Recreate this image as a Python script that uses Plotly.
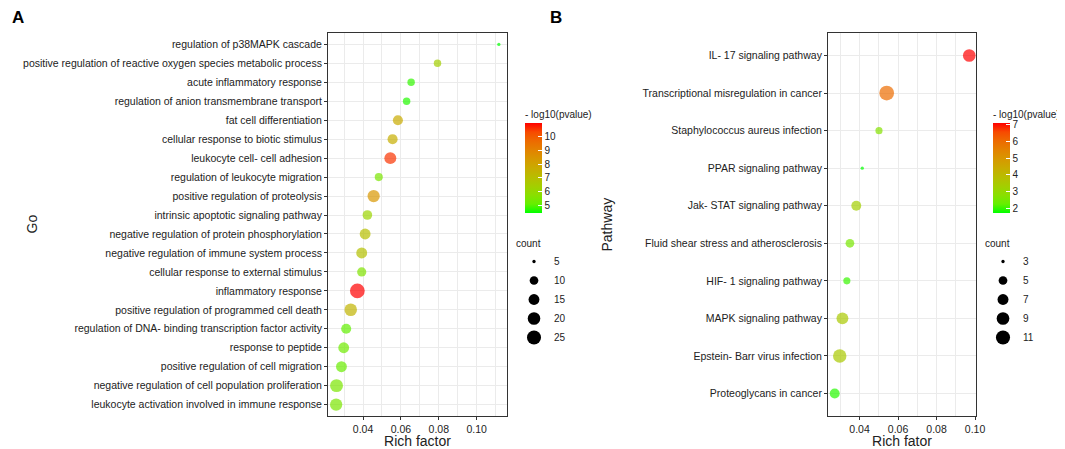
import numpy as np
import plotly.graph_objects as go

# ---- GO enrichment (panel A), listed top to bottom ----
go_terms = [
    "regulation of p38MAPK cascade",
    "positive regulation of reactive oxygen species metabolic process",
    "acute inflammatory response",
    "regulation of anion transmembrane transport",
    "fat cell differentiation",
    "cellular response to biotic stimulus",
    "leukocyte cell- cell adhesion",
    "regulation of leukocyte migration",
    "positive regulation of proteolysis",
    "intrinsic apoptotic signaling pathway",
    "negative regulation of protein phosphorylation",
    "negative regulation of immune system process",
    "cellular response to external stimulus",
    "inflammatory response",
    "positive regulation of programmed cell death",
    "regulation of DNA- binding transcription factor activity",
    "response to peptide",
    "positive regulation of cell migration",
    "negative regulation of cell population proliferation",
    "leukocyte activation involved in immune response",
]
go_rich = [0.1117, 0.0793, 0.0654, 0.0630, 0.0584, 0.0556, 0.0544, 0.0483, 0.0456, 0.0423,
           0.0411, 0.0393, 0.0393, 0.0370, 0.0335, 0.0311, 0.0298, 0.0286, 0.0260, 0.0258]
go_count = [5, 8, 8, 8, 13, 13, 18, 9, 19, 12, 15, 15, 11, 28, 20, 13, 15, 15, 21, 19]
go_logp = [4.48, 6.4, 4.8, 4.7, 7.7, 7.6, 10.5, 5.5, 8.4, 6.2,
           7.0, 6.9, 5.6, 10.95, 7.4, 5.1, 5.3, 5.2, 5.5, 5.5]
go_breaks = [5, 10, 15, 20, 25]
go_cb_ticks = [5, 6, 7, 8, 9, 10]

# ---- KEGG enrichment (panel B), listed top to bottom ----
kegg_terms = [
    "IL- 17 signaling pathway",
    "Transcriptional misregulation in cancer",
    "Staphylococcus aureus infection",
    "PPAR signaling pathway",
    "Jak- STAT signaling pathway",
    "Fluid shear stress and atherosclerosis",
    "HIF- 1 signaling pathway",
    "MAPK signaling pathway",
    "Epstein- Barr virus infection",
    "Proteoglycans in cancer",
]
kegg_rich = [0.0970, 0.0541, 0.0501, 0.0414, 0.0383, 0.0350, 0.0334, 0.0311, 0.0297, 0.0271]
kegg_count = [9, 12, 4, 3, 6, 5, 4, 8, 10, 6]
kegg_logp = [7.12, 6.0, 2.7, 1.7, 3.3, 2.5, 2.0, 3.5, 3.5, 1.9]
kegg_breaks = [3, 5, 7, 9, 11]
kegg_cb_ticks = [2, 3, 4, 5, 6, 7]

# the page body has an 8px margin, so the figure is drawn 8px in from the window corner
OFF = 8
W, H = 1065 - OFF, 449 - OFF
TXT = "#222222"
FONT = "Liberation Sans, Arial, sans-serif"


def px(x):  # window pixel -> paper x
    return (x - OFF) / W


def py(y):  # window pixel -> paper y
    return 1 - (y - OFF) / H


# green -> red gradient interpolated in CIELAB (like ggplot's scale_colour_gradient)
def _to_lab(rgb):
    c = np.array(rgb) / 255.0
    c = np.where(c <= 0.04045, c / 12.92, ((c + 0.055) / 1.055) ** 2.4)
    m = np.array([[0.4124, 0.3576, 0.1805], [0.2126, 0.7152, 0.0722], [0.0193, 0.1192, 0.9505]])
    xyz = m @ c / np.array([0.95047, 1.0, 1.08883])
    f = np.where(xyz > 0.008856, np.cbrt(xyz), 7.787 * xyz + 16 / 116)
    return np.array([116 * f[1] - 16, 500 * (f[0] - f[1]), 200 * (f[1] - f[2])])


def _from_lab(lab):
    fy = (lab[0] + 16) / 116
    f = np.array([fy + lab[1] / 500, fy, fy - lab[2] / 200])
    xyz = np.where(f ** 3 > 0.008856, f ** 3, (f - 16 / 116) / 7.787) * np.array([0.95047, 1.0, 1.08883])
    m = np.array([[3.2406, -1.5372, -0.4986], [-0.9689, 1.8758, 0.0415], [0.0557, -0.2040, 1.0570]])
    c = np.clip(m @ xyz, 0, 1)
    c = np.where(c <= 0.0031308, 12.92 * c, 1.055 * c ** (1 / 2.4) - 0.055)
    r, g, b = (np.clip(c, 0, 1) * 255).round().astype(int)
    return f"rgb({r},{g},{b})"


lo_lab, hi_lab = _to_lab((0, 255, 0)), _to_lab((255, 0, 0))
green_red = [[i / 10, _from_lab(lo_lab + (hi_lab - lo_lab) * i / 10)] for i in range(11)]


def dot_size(counts, lo, hi):
    t = np.clip((np.asarray(counts, float) - lo) / (hi - lo), 0, 1)
    return 1.0 + 2.3 * (1 + 5 * np.sqrt(t))


def padded(vals, frac=0.05):
    lo, hi = min(vals), max(vals)
    return [lo - frac * (hi - lo), hi + frac * (hi - lo)]


fig = go.Figure()

panels = [
    dict(terms=go_terms, rich=go_rich, count=go_count, logp=go_logp, breaks=go_breaks,
         ax="", cax="coloraxis", leg="legend"),
    dict(terms=kegg_terms, rich=kegg_rich, count=kegg_count, logp=kegg_logp, breaks=kegg_breaks,
         ax="2", cax="coloraxis2", leg="legend2"),
]

for p in panels:
    lo, hi = min(p["count"]), max(p["count"])
    fig.add_trace(go.Scatter(
        x=p["rich"], y=p["terms"], mode="markers",
        marker=dict(size=dot_size(p["count"], lo, hi), color=p["logp"], coloraxis=p["cax"], line=dict(width=0)),
        xaxis="x" + p["ax"], yaxis="y" + p["ax"], showlegend=False,
        hovertemplate="%{y}<br>Rich factor %{x}<extra></extra>",
    ))
    # size key
    for b in p["breaks"]:
        fig.add_trace(go.Scatter(
            x=[None], y=[None], mode="markers", name=str(b),
            marker=dict(size=float(dot_size([b], lo, hi)[0]), color="black", line=dict(width=0)),
            xaxis="x" + p["ax"], yaxis="y" + p["ax"], legend=p["leg"], showlegend=True,
        ))

axis_common = dict(
    showline=True, mirror=True, linecolor="#333333", linewidth=1,
    ticks="outside", ticklen=3, tickcolor="#333333",
    gridcolor="#EBEBEB", gridwidth=1, zeroline=False,
    tickfont=dict(size=10.5, color=TXT), automargin=False,
)
y0, y1 = py(416), py(33)
x_ticks = [0.04, 0.06, 0.08, 0.10]
x_text = ["0.04", "0.06", "0.08", "0.10"]


def colorbar(x_win, ticks):
    return dict(
        title=dict(text="- log10(pvalue)", side="top", font=dict(size=10, color=TXT)),
        x=px(x_win), xanchor="left", y=py(213), yanchor="bottom",
        len=106, lenmode="pixels", thickness=17, xpad=0, ypad=0,
        outlinewidth=0, ticks="inside", ticklen=4, tickcolor="white",
        tickvals=ticks, tickfont=dict(size=10, color=TXT),
    )


def size_legend(x_win):
    return dict(
        title=dict(text="count", font=dict(size=10, color=TXT)),
        x=px(x_win), xanchor="left", y=py(234), yanchor="top",
        itemsizing="trace", font=dict(size=10, color=TXT), bgcolor="rgba(0,0,0,0)",
        tracegroupgap=0,
    )


fig.update_layout(
    width=W, height=H,
    margin=dict(l=0, r=0, t=0, b=0, autoexpand=False),
    paper_bgcolor="white", plot_bgcolor="white",
    font=dict(family=FONT, color=TXT),
    xaxis=dict(axis_common, domain=[px(328), px(507)], range=padded(go_rich),
               tickvals=x_ticks, ticktext=x_text,
               minor=dict(dtick=0.01, tick0=0, showgrid=True, gridcolor="#EBEBEB", gridwidth=0.8),
               title=dict(text="Rich factor", font=dict(size=14, color=TXT), standoff=0)),
    yaxis=dict(axis_common, domain=[y0, y1], type="category",
               categoryorder="array", categoryarray=go_terms,
               range=[len(go_terms) - 0.4, -0.6]),
    xaxis2=dict(axis_common, domain=[px(828), px(976)], anchor="y2", range=padded(kegg_rich),
                tickvals=x_ticks, ticktext=x_text,
                minor=dict(dtick=0.01, tick0=0, showgrid=True, gridcolor="#EBEBEB", gridwidth=0.8),
                title=dict(text="Rich fator", font=dict(size=14, color=TXT), standoff=0)),
    yaxis2=dict(axis_common, domain=[y0, y1], anchor="x2", type="category",
                categoryorder="array", categoryarray=kegg_terms,
                range=[len(kegg_terms) - 0.4, -0.6]),
    coloraxis=dict(colorscale=green_red, cmin=min(go_logp), cmax=max(go_logp),
                   colorbar=colorbar(525, go_cb_ticks)),
    coloraxis2=dict(colorscale=green_red, cmin=min(kegg_logp), cmax=max(kegg_logp),
                    colorbar=colorbar(993, kegg_cb_ticks)),
    legend=size_legend(514),
    legend2=size_legend(983),
    annotations=[
        dict(text="<b>A</b>", x=px(10), y=py(6), xref="paper", yref="paper",
             xanchor="left", yanchor="top", showarrow=False, font=dict(size=17, color="black")),
        dict(text="<b>B</b>", x=px(548), y=py(6), xref="paper", yref="paper",
             xanchor="left", yanchor="top", showarrow=False, font=dict(size=17, color="black")),
        # y axis titles, centred on each panel
        dict(text="Go", x=px(31), y=(y0 + y1) / 2, xref="paper", yref="paper", textangle=-90,
             xanchor="center", yanchor="middle", showarrow=False, font=dict(size=14, color=TXT)),
        dict(text="Pathway", x=px(606), y=(y0 + y1) / 2, xref="paper", yref="paper", textangle=-90,
             xanchor="center", yanchor="middle", showarrow=False, font=dict(size=14, color=TXT)),
    ],
)

fig.write_html("out.html")
